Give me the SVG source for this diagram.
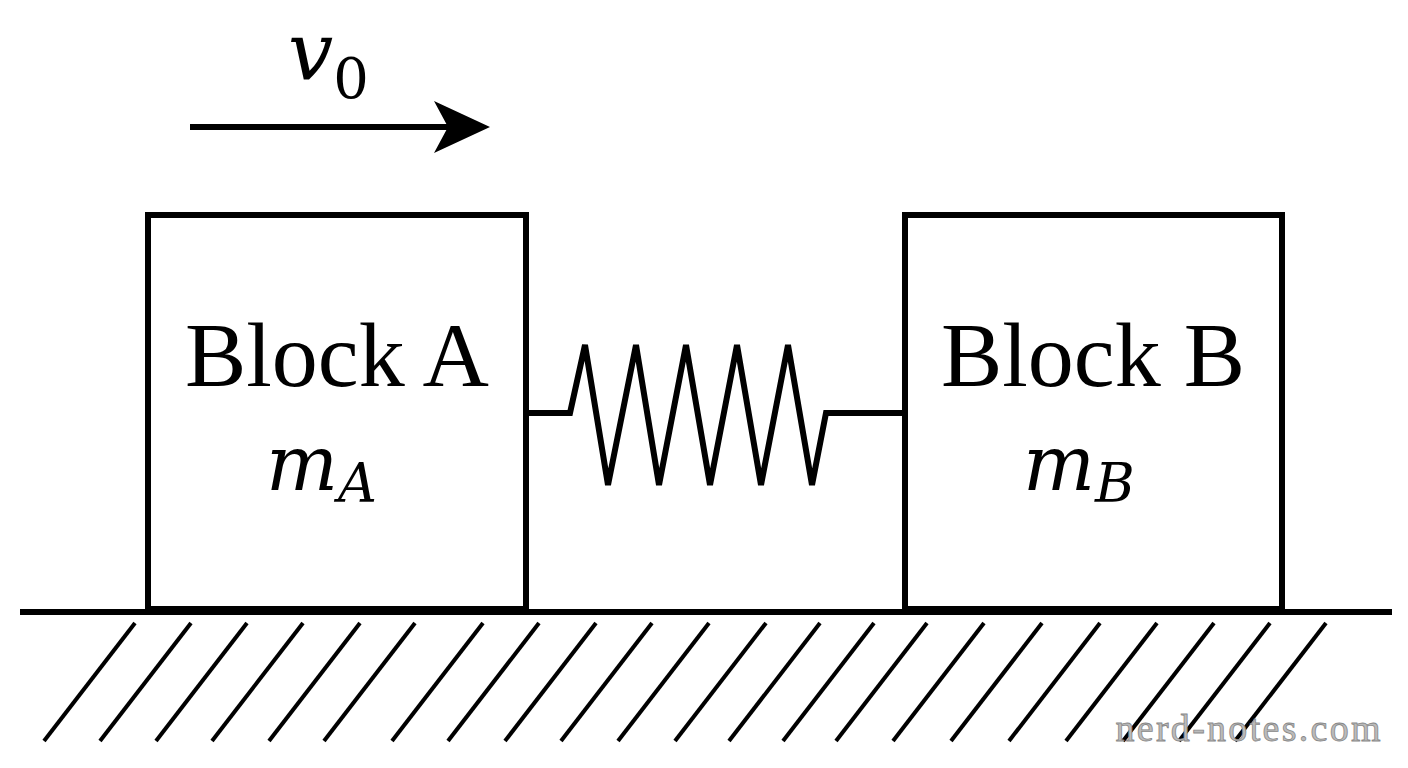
<svg xmlns="http://www.w3.org/2000/svg" width="1408" height="768" viewBox="0 0 1408 768">
<style>
.ln{stroke:#000;fill:none;stroke-width:6}
.h{stroke:#000;stroke-width:4}
.t{font-family:"Liberation Serif",serif;font-size:92px;fill:#000}
.m{font-family:"DejaVu Serif","Liberation Serif",serif;font-style:italic;fill:#000}
.s{font-family:"DejaVu Serif","Liberation Serif",serif;font-style:normal}
</style>
<rect width="1408" height="768" fill="#fff"/>
<g id="ground">
<line x1="20" y1="612" x2="1392" y2="612" class="ln" stroke-width="7"/>
<g id="hatch">
<line class="h" x1="135" y1="623" x2="44" y2="741"/><line class="h" x1="191" y1="623" x2="100" y2="741"/>
<line class="h" x1="247" y1="623" x2="156" y2="741"/><line class="h" x1="303" y1="623" x2="212" y2="741"/>
<line class="h" x1="360" y1="623" x2="269" y2="741"/><line class="h" x1="415" y1="623" x2="324" y2="741"/>
<line class="h" x1="483" y1="623" x2="392" y2="741"/><line class="h" x1="539" y1="623" x2="448" y2="741"/>
<line class="h" x1="596" y1="623" x2="505" y2="741"/><line class="h" x1="652" y1="623" x2="561" y2="741"/>
<line class="h" x1="709" y1="623" x2="618" y2="741"/><line class="h" x1="766" y1="623" x2="675" y2="741"/>
<line class="h" x1="820" y1="623" x2="729" y2="741"/><line class="h" x1="874" y1="623" x2="783" y2="741"/>
<line class="h" x1="927" y1="623" x2="836" y2="741"/><line class="h" x1="984" y1="623" x2="893" y2="741"/>
<line class="h" x1="1042" y1="623" x2="951" y2="741"/><line class="h" x1="1100" y1="623" x2="1009" y2="741"/>
<line class="h" x1="1157" y1="623" x2="1066" y2="741"/><line class="h" x1="1214" y1="623" x2="1123" y2="741"/>
<line class="h" x1="1270" y1="623" x2="1179" y2="741"/><line class="h" x1="1326" y1="623" x2="1235" y2="741"/>
</g>
</g>
<g id="blockA">
<rect x="148" y="215" width="378" height="394" class="ln"/>
<text class="t" x="337" y="386" text-anchor="middle">Block A</text>
<text class="m" x="266" y="490" font-size="76">m<tspan font-size="54" dy="12">A</tspan></text>
</g>
<g id="blockB">
<rect x="905" y="215" width="377" height="394" class="ln"/>
<text class="t" x="1093" y="386" text-anchor="middle">Block B</text>
<text class="m" x="1023" y="490" font-size="76">m<tspan font-size="54" dy="12">B</tspan></text>
</g>
<g id="connectors">
<polyline class="ln" stroke-width="7" stroke-linejoin="miter" points="529,413 570,413 585,345 608,485 636,345 659,485 686,345 710,485 737,345 761,485 788,345 812,485 826,413 905,413"/>
<line x1="190" y1="127" x2="450" y2="127" class="ln" stroke-width="7"/>
<polygon points="490,127 434,101 448,127 434,153" fill="#000"/>
</g>
<text class="m" x="288" y="80" font-size="80">v<tspan class="s" font-size="56" dy="18">0</tspan></text>
<text x="1248" y="741" text-anchor="middle" font-family="Liberation Serif,serif" font-size="38" fill="#bbb" stroke="#888" stroke-width="0.8" textLength="265">nerd-notes.com</text>
</svg>
